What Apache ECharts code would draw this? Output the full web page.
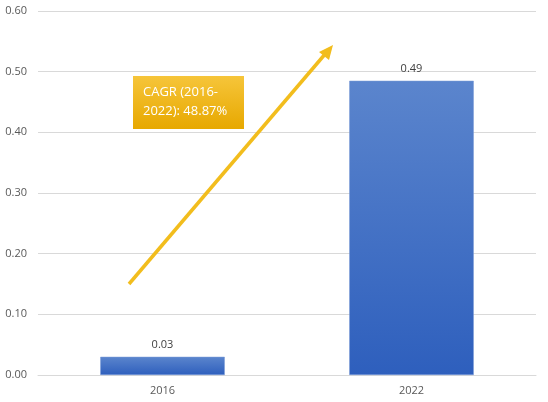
<!DOCTYPE html>
<html>
<head>
<meta charset="utf-8">
<script src="https://cdn.jsdelivr.net/npm/echarts@6/dist/echarts.min.js"></script>
<style>
  html, body { margin: 0; padding: 0; background: #fff; }
  #chart { width: 548px; height: 402px; }
</style>
</head>
<body>
<div id="chart"></div>
<script>
var years = ['2016', '2022'];
var values = [0.03, 0.485];
var valueLabels = ['0.03', '0.49'];
var yTicks = [0, 0.1, 0.2, 0.3, 0.4, 0.5, 0.6];
var cagrText = 'CAGR (2016-\n2022): 48.87%';

var chart = echarts.init(document.getElementById('chart'));
var font = '"Open Sans", "Noto Sans", sans-serif';

var option = {
  animation: false,
  grid: { left: 38, right: 12, top: 11, bottom: 27 },
  xAxis: {
    type: 'category',
    data: years,
    axisTick: { show: false },
    axisLine: { lineStyle: { color: '#d9d9d9' } },
    axisLabel: { color: '#595959', fontSize: 11, fontFamily: font, margin: 10 }
  },
  yAxis: {
    type: 'value',
    min: yTicks[0],
    max: yTicks[yTicks.length - 1],
    interval: 0.1,
    axisLabel: {
      color: '#595959', fontSize: 11, fontFamily: font, margin: 11,
      formatter: function (v) { return v.toFixed(2); }
    },
    splitLine: { lineStyle: { color: '#d9d9d9' } }
  },
  series: [{
    type: 'bar',
    data: values,
    barWidth: '50%',
    itemStyle: {
      color: new echarts.graphic.LinearGradient(0, 0, 0, 1, [
        { offset: 0, color: '#5b85cd' },
        { offset: 1, color: '#2e5fbd' }
      ]),
      borderColor: '#7a9bd6',
      borderWidth: 0.5
    },
    label: {
      show: true,
      position: 'top',
      distance: 6,
      color: '#404040',
      fontSize: 11,
      fontFamily: font,
      formatter: function (p) { return valueLabels[p.dataIndex]; }
    }
  }],
  graphic: [
    {
      type: 'line',
      shape: { x1: 129, y1: 284, x2: 326, y2: 53 },
      style: { stroke: '#f2bd1d', lineWidth: 3.5 },
      z: 10
    },
    {
      type: 'polygon',
      shape: { points: [[333, 45], [319, 52], [329, 60]] },
      style: { fill: '#f2bd1d' },
      z: 10
    },
    {
      type: 'rect',
      shape: { x: 133, y: 76, width: 111, height: 53 },
      style: {
        fill: new echarts.graphic.LinearGradient(0, 0, 0, 1, [
          { offset: 0, color: '#f6c53a' },
          { offset: 1, color: '#e7a800' }
        ])
      },
      z: 11
    },
    {
      type: 'text',
      x: 143,
      y: 83,
      style: {
        text: cagrText,
        fill: '#ffffff',
        fontSize: 13,
        fontFamily: font,
        lineHeight: 19
      },
      z: 12
    }
  ]
};

chart.setOption(option);
window.onresize = chart.resize;
</script>
</body>
</html>
